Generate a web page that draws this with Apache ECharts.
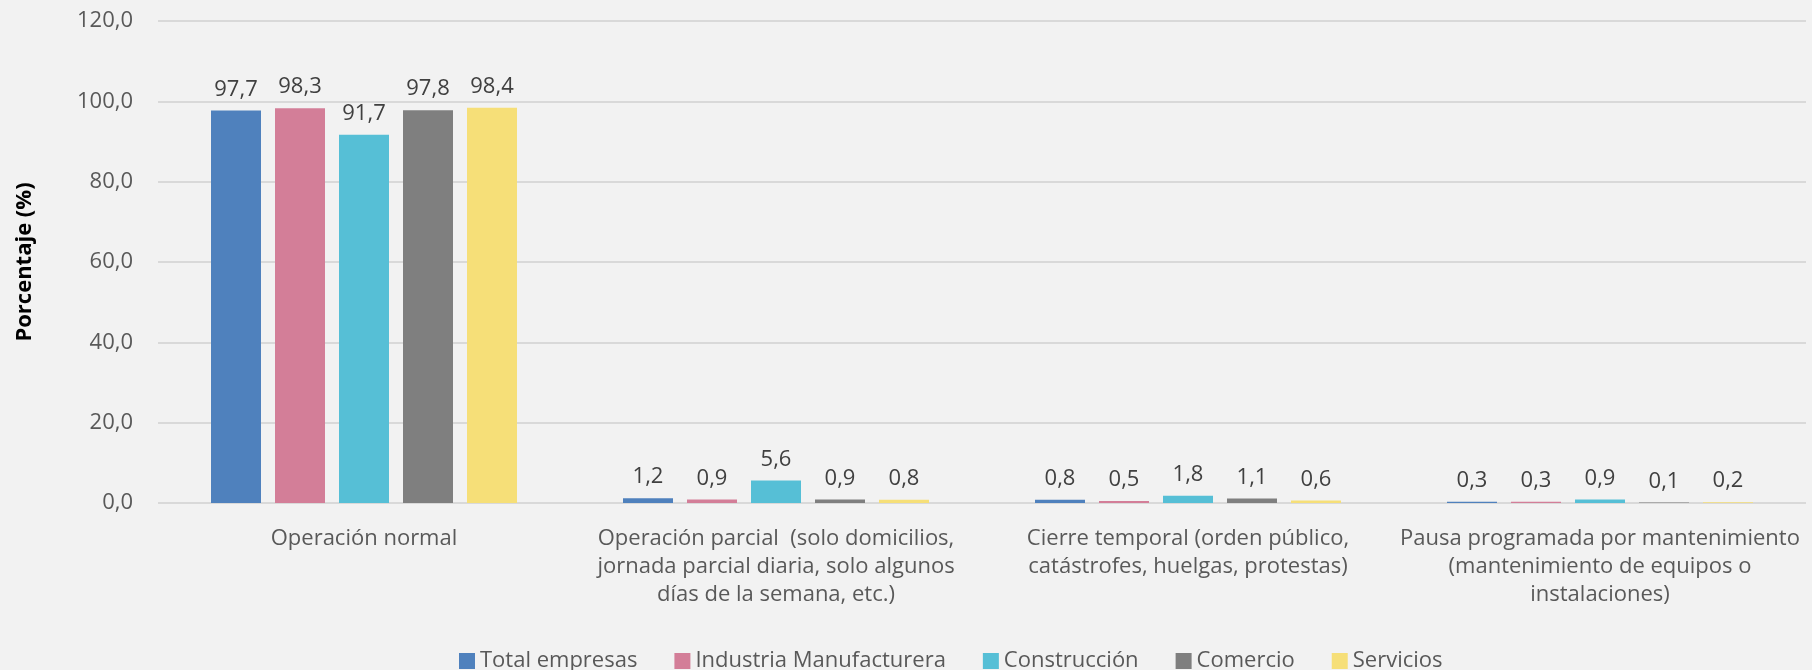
<!DOCTYPE html>
<html lang="es">
<head>
    <meta charset="UTF-8">
    <title>Estado de operación</title>
    <script src="https://cdn.jsdelivr.net/npm/echarts@6/dist/echarts.min.js"></script>
    <style>
        body { margin: 0; background: #f2f2f2; }
    </style>
</head>
<body>
    <div id="main" style="width: 1812px;height:670px;"></div>
    <script type="text/javascript">
        // categories and values
        var categories = [
            'Operación normal',
            'Operación parcial  (solo domicilios,\njornada parcial diaria, solo algunos\ndías de la semana, etc.)',
            'Cierre temporal (orden público,\ncatástrofes, huelgas, protestas)',
            'Pausa programada por mantenimiento\n(mantenimiento de equipos o\ninstalaciones)'
        ];
        var seriesNames = ['Total empresas', 'Industria Manufacturera', 'Construcción', 'Comercio', 'Servicios'];
        var totalEmpresas = [97.7, 1.2, 0.8, 0.3];
        var industria = [98.3, 0.9, 0.5, 0.3];
        var construccion = [91.7, 5.6, 1.8, 0.9];
        var comercio = [97.8, 0.9, 1.1, 0.1];
        var servicios = [98.4, 0.8, 0.6, 0.2];
        var yTicks = [0, 20, 40, 60, 80, 100, 120];

        var colors = ['#4f81bd', '#d37e98', '#56bfd6', '#7f7f7f', '#f6df78'];
        var values = [totalEmpresas, industria, construccion, comercio, servicios];
        var font = '"Open Sans", "Noto Sans", sans-serif';

        function comma(v) {
            return Number(v).toFixed(1).replace('.', ',');
        }

        var myChart = echarts.init(document.getElementById('main'));

        var series = seriesNames.map(function (name, i) {
            return {
                name: name,
                type: 'bar',
                barWidth: 50,
                barGap: '28%',
                itemStyle: { color: colors[i] },
                label: {
                    show: true,
                    position: 'top',
                    distance: 10,
                    color: '#404040',
                    fontFamily: font,
                    fontSize: 22,
                    formatter: function (p) { return comma(p.value); }
                },
                data: values[i]
            };
        });

        var option = {
            backgroundColor: '#f2f2f2',
            textStyle: { fontFamily: font },
            legend: {
                left: 454,
                top: 645,
                icon: 'rect',
                itemWidth: 16,
                itemHeight: 16,
                itemGap: 37,
                textStyle: { color: '#595959', fontSize: 22, fontFamily: font },
                data: seriesNames
            },
            grid: { left: 158, right: 6, top: 21, bottom: 167 },
            xAxis: {
                type: 'category',
                data: categories,
                axisLine: { show: false },
                axisTick: { show: false },
                axisLabel: {
                    interval: 0,
                    margin: 22,
                    color: '#595959',
                    fontSize: 22,
                    lineHeight: 28,
                    fontFamily: font
                }
            },
            yAxis: {
                type: 'value',
                min: yTicks[0],
                max: yTicks[yTicks.length - 1],
                interval: 20,
                name: 'Porcentaje (%)',
                nameLocation: 'middle',
                nameGap: 122,
                nameTextStyle: { color: '#000', fontSize: 22, fontWeight: 'bold', fontFamily: font },
                axisLine: { show: false },
                axisTick: { show: false },
                splitLine: { lineStyle: { color: '#d9d9d9', width: 2 } },
                axisLabel: {
                    margin: 25,
                    color: '#595959',
                    fontSize: 22,
                    fontFamily: font,
                    formatter: comma
                }
            },
            series: series
        };

        myChart.setOption(option);
    </script>
</body>
</html>
